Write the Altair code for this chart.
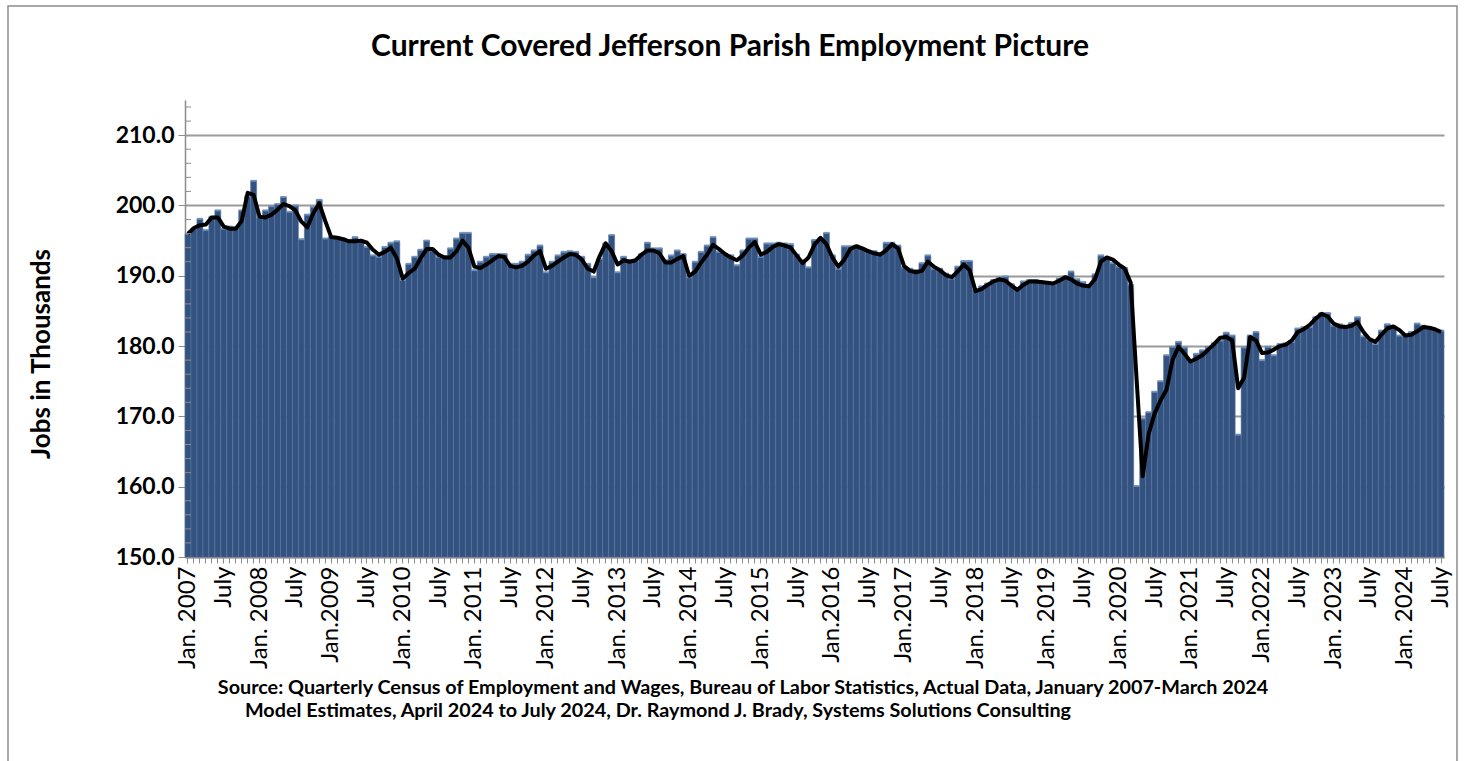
import altair as alt
import pandas as pd

# Monthly covered employment (thousands), Jan 2007 - Jul 2024 (bars)
bar_values = [
    196.0, 196.7, 198.1, 196.5, 198.4, 199.3, 196.7, 197.0, 196.9, 199.3, 201.3, 203.5,  # 2007
    198.3, 199.3, 199.9, 200.2, 201.2, 199.1, 200.0, 195.2, 198.7, 199.8, 200.8, 195.3,  # 2008
    195.5, 195.5, 195.3, 195.1, 195.5, 195.0, 194.1, 192.9, 192.7, 194.1, 194.7, 194.9,  # 2009
    189.4, 191.7, 192.7, 193.7, 195.0, 193.6, 192.7, 192.8, 193.9, 195.3, 196.1, 196.1,  # 2010
    190.8, 192.0, 192.7, 193.1, 193.1, 193.1, 191.7, 191.7, 192.0, 193.0, 193.6, 194.3,  # 2011
    190.5, 192.0, 192.9, 193.4, 193.5, 193.4, 192.7, 191.7, 189.8, 192.4, 194.6, 195.8,  # 2012
    190.5, 192.7, 192.2, 192.2, 193.1, 194.7, 193.9, 193.9, 192.2, 192.9, 193.6, 193.1,  # 2013
    189.8, 192.0, 193.4, 194.3, 195.5, 193.4, 193.1, 192.9, 191.5, 193.6, 195.3, 195.3,  # 2014
    192.7, 194.6, 194.6, 194.7, 194.6, 194.5, 193.0, 192.2, 191.2, 195.1, 195.3, 196.1,  # 2015
    192.9, 191.0, 194.2, 194.2, 194.3, 193.9, 193.6, 193.5, 193.2, 194.7, 194.7, 194.3,  # 2016
    191.2, 191.0, 190.8, 191.8, 192.9, 191.0, 191.0, 190.3, 189.6, 191.3, 192.1, 192.1,  # 2017
    188.0, 188.5, 188.9, 189.4, 189.7, 189.9, 188.8, 188.2, 189.2, 189.4, 189.4, 189.1,  # 2018
    189.1, 188.8, 189.6, 189.9, 190.6, 189.5, 189.1, 188.6, 190.2, 192.9, 192.5, 191.8,  # 2019
    191.3, 191.1, 188.7, 160.1, 169.7, 170.6, 173.5, 175.0, 178.7, 179.9, 180.6, 179.8,  # 2020
    178.0, 178.9, 179.4, 179.9, 180.4, 180.8, 181.9, 181.5, 167.4, 179.8, 181.5, 182.0,  # 2021
    178.0, 179.9, 178.7, 180.3, 180.4, 180.6, 182.5, 182.7, 182.7, 184.1, 184.7, 184.7,  # 2022
    182.9, 183.1, 182.9, 183.3, 184.1, 181.4, 180.9, 180.3, 182.2, 183.1, 182.8, 181.5,  # 2023
    181.5, 182.0, 183.2, 182.9, 182.7, 182.3, 182.2,                                      # 2024
]

# Smoothed trend line (black)
line_values = [
    196.0, 196.8, 197.2, 197.3, 198.3, 198.3, 197.0, 196.7, 196.7, 197.8, 201.8, 201.5,  # 2007
    198.4, 198.3, 198.7, 199.4, 200.2, 199.9, 199.3, 197.7, 196.9, 198.9, 200.3, 197.8,  # 2008
    195.5, 195.4, 195.2, 194.9, 194.9, 195.0, 194.7, 193.7, 193.0, 193.4, 194.0, 192.5,  # 2009
    189.6, 190.4, 191.0, 192.5, 193.8, 193.8, 193.0, 192.6, 192.6, 193.5, 195.0, 194.0,  # 2010
    191.3, 191.1, 191.6, 192.2, 192.8, 192.7, 191.4, 191.2, 191.4, 192.0, 192.9, 193.5,  # 2011
    191.0, 191.4, 192.0, 192.6, 193.1, 193.0, 192.3, 191.0, 190.6, 192.8, 194.6, 193.5,  # 2012
    191.6, 192.2, 192.0, 192.2, 193.0, 193.6, 193.6, 193.2, 191.9, 191.9, 192.4, 192.8,  # 2013
    190.0, 190.6, 191.9, 193.0, 194.4, 193.8, 193.1, 192.6, 192.2, 192.9, 194.0, 194.8,  # 2014
    193.0, 193.4, 194.1, 194.5, 194.3, 194.0, 192.9, 191.8, 192.6, 194.4, 195.4, 194.5,  # 2015
    192.6, 191.3, 192.3, 193.8, 194.2, 193.9, 193.5, 193.2, 193.0, 193.6, 194.5, 193.9,  # 2016
    191.4, 190.7, 190.5, 190.7, 192.0, 191.3, 190.8, 190.1, 189.8, 190.6, 191.6, 190.8,  # 2017
    187.8, 188.1, 188.7, 189.2, 189.5, 189.3, 188.6, 188.0, 188.7, 189.2, 189.2, 189.1,  # 2018
    189.0, 188.9, 189.3, 189.8, 189.5, 188.9, 188.6, 188.5, 189.5, 192.0, 192.6, 192.3,  # 2019
    191.6, 191.0, 189.0, 175.0, 161.5, 167.5, 170.4, 172.3, 173.8, 178.0, 179.9, 178.9,  # 2020
    177.8, 178.2, 178.7, 179.5, 180.3, 181.2, 181.3, 180.8, 174.0, 175.5, 181.3, 180.8,  # 2021
    179.0, 179.1, 179.5, 180.0, 180.2, 180.8, 182.0, 182.4, 183.0, 183.9, 184.6, 184.2,  # 2022
    183.2, 182.8, 182.7, 182.9, 183.4, 182.0, 181.0, 180.6, 181.6, 182.5, 182.8, 182.3,  # 2023
    181.5, 181.6, 182.1, 182.7, 182.6, 182.4, 182.0,                                      # 2024
]

tick_labels = [
    "Jan. 2007", "July", "Jan. 2008", "July", "Jan.2009", "July", "Jan. 2010", "July",
    "Jan. 2011", "July", "Jan. 2012", "July", "Jan. 2013", "July", "Jan. 2014", "July",
    "Jan. 2015", "July", "Jan.2016", "July", "Jan.2017", "July", "Jan. 2018", "July",
    "Jan. 2019", "July", "Jan. 2020", "July", "Jan. 2021", "July", "Jan.2022", "July",
    "Jan. 2023", "July", "Jan. 2024", "July",
]

major_ticks = [150, 160, 170, 180, 190, 200, 210]
minor_ticks = [152, 154, 156, 158, 162, 164, 166, 168, 172, 174, 176, 178,
               182, 184, 186, 188, 192, 194, 196, 198, 202, 204, 206, 208,
               212, 214]

title_text = "Current Covered Jefferson Parish Employment Picture"
y_title_text = "Jobs in Thousands"
source_line1 = ("Source: Quarterly Census of Employment and Wages, Bureau of Labor Statistics, "
                "Actual Data, January 2007-March 2024")
source_line2 = ("Model Estimates, April 2024 to July 2024, Dr. Raymond J. Brady, "
                "Systems Solutions Consulting")

FONT = "Lato"

df = pd.DataFrame({"m": list(range(len(bar_values))), "bar": bar_values, "line": line_values})
df_minor = pd.DataFrame({"v": minor_ticks})
one = pd.DataFrame({"a": [0]})

label_arr = "[" + ",".join("'" + t + "'" for t in tick_labels) + "]"
label_expr = "datum.value % 6 == 0 ? " + label_arr + "[floor(datum.value / 6)] : ''"

y_scale = alt.Scale(domain=[150, 215], zero=False, nice=False)
x_scale = alt.Scale(paddingInner=0, paddingOuter=0)

x_enc = alt.X(
    "m:O", scale=x_scale,
    axis=alt.Axis(title=None, labelExpr=label_expr, labelAngle=270, labelFont=FONT,
                  labelFontSize=24, labelColor="#000000", labelOverlap=False,
                  labelPadding=3, tickColor="#8c8c8c", tickSize=6, tickWidth=1,
                  domainColor="#8c8c8c", domainWidth=1.5, grid=False),
)

bars = alt.Chart(df).mark_bar(color="#34527f", stroke="#56759f", strokeWidth=0.6).encode(
    x=x_enc,
    y=alt.Y("bar:Q", scale=y_scale,
            axis=alt.Axis(values=major_ticks, format=".1f", title=None, labelFont=FONT,
                          labelFontWeight="bold", labelFontSize=23, labelColor="#000000",
                          tickSize=7, tickColor="#8c8c8c", domainColor="#8c8c8c",
                          domainWidth=1.5, gridColor="#9a9a9a", gridWidth=2,
                          labelPadding=4)),
    y2=alt.datum(150),
)

caps = alt.Chart(df).mark_tick(color="#6e8fbd", thickness=2, opacity=0.9).encode(
    x=alt.X("m:O", scale=x_scale),
    y=alt.Y("bar:Q", scale=y_scale),
)

line = alt.Chart(df).mark_line(color="#000000", strokeWidth=4, strokeJoin="round").encode(
    x=alt.X("m:O", scale=x_scale),
    y=alt.Y("line:Q", scale=y_scale),
)

minor = alt.Chart(df_minor).mark_rule(color="#8c8c8c", strokeWidth=1).encode(
    y=alt.Y("v:Q", scale=y_scale),
    x=alt.value(0), x2=alt.value(6),
)

frame = alt.Chart(one).mark_rect(fillOpacity=0, stroke="#8c8c8c", strokeWidth=1.5).encode(
    x=alt.value(-177), x2=alt.value(1272), y=alt.value(-94), y2=alt.value(700),
)

title = alt.Chart(one).mark_text(font=FONT, fontSize=30, fontWeight="bold", color="#000000",
                                 align="center", baseline="middle").encode(
    x=alt.value(545), y=alt.value(-53), text=alt.value(title_text))

ytitle = alt.Chart(one).mark_text(font=FONT, fontSize=26, fontWeight="bold", color="#000000",
                                  align="center", baseline="middle", angle=270).encode(
    x=alt.value(-143), y=alt.value(254), text=alt.value(y_title_text))

src1 = alt.Chart(one).mark_text(font=FONT, fontSize=19.8, fontWeight="bold", color="#000000",
                                align="center", baseline="middle").encode(
    x=alt.value(558), y=alt.value(588), text=alt.value(source_line1))

src2 = alt.Chart(one).mark_text(font=FONT, fontSize=19.8, fontWeight="bold", color="#000000",
                                align="center", baseline="middle").encode(
    x=alt.value(473), y=alt.value(611), text=alt.value(source_line2))

chart = alt.layer(bars, caps, line, minor, frame, title, ytitle, src1, src2).properties(
    width=1259, height=457,
    autosize=alt.AutoSizeParams(type="none"),
    padding={"left": 185, "top": 100, "right": 20, "bottom": 204},
    background="#ffffff",
).configure_view(stroke=None)

chart.save("out.html", embed_options={"renderer": "svg", "actions": False})
